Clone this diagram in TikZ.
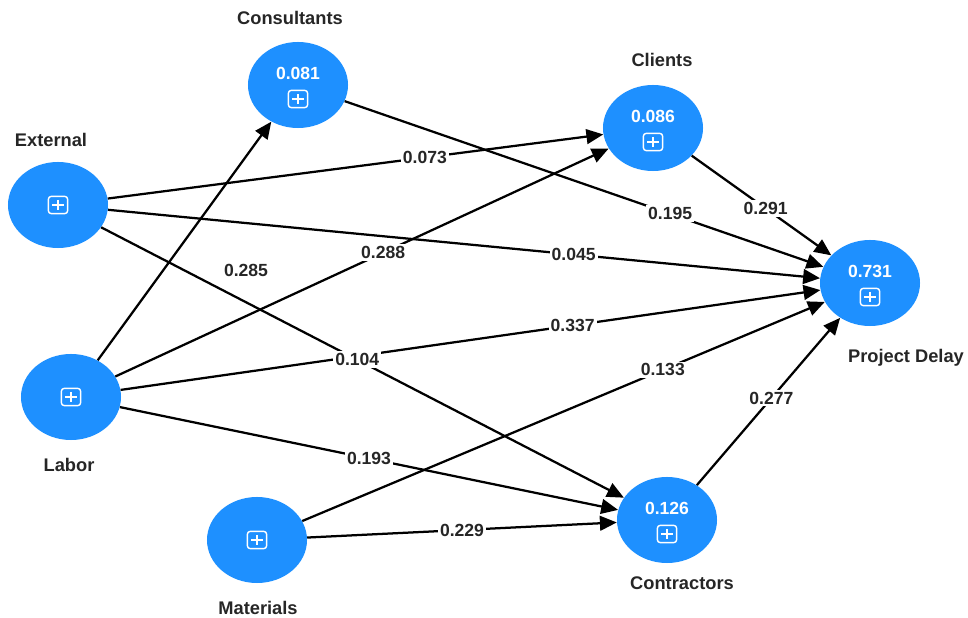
\documentclass[tikz,border=0pt]{standalone}
\usepackage{fontspec}
\setsansfont{Liberation Sans}
\usepackage{tikz}
\usetikzlibrary{shapes.geometric, arrows.meta, positioning, calc}
\definecolor{ConstructBlue}{HTML}{1E90FF}
\tikzset{
  construct/.style={ellipse, draw=none, fill=ConstructBlue, minimum width=2.5cm, minimum height=2.15cm, inner sep=0pt},
  valtext/.style={text=white, font=\sffamily\bfseries\fontsize{12.5}{14}\selectfont, inner sep=0pt},
  plusbox/.style={rectangle, draw=white, line width=1pt, rounded corners=2pt, minimum width=0.48cm, minimum height=0.43cm, inner sep=0pt,
    path picture={\draw[white, line width=1pt] ([yshift=-2.5pt]path picture bounding box.north) -- ([yshift=2.5pt]path picture bounding box.south)
      ([xshift=2.5pt]path picture bounding box.west) -- ([xshift=-2.5pt]path picture bounding box.east);}},
  namelbl/.style={font=\sffamily\bfseries\fontsize{13}{15}\selectfont, text=black!85, inner sep=1pt},
  coef/.style={fill=white, font=\sffamily\bfseries\fontsize{12.5}{14}\selectfont, text=black!85, inner sep=1.5pt},
  path/.style={-{Triangle[length=12pt, width=10.5pt]}, line width=1.6pt, black}
}
\begin{document}
\begin{tikzpicture}[x=0.025cm, y=0.025cm]
  \useasboundingbox (0,0) rectangle (968,618);
  % constructs
  \node[construct] (cons) at (298,533) {};
  \node[construct] (cli) at (653,490) {};
  \node[construct] (ext) at (58,413) {};
  \node[construct] (pd) at (870,335) {};
  \node[construct] (lab) at (71,221) {};
  \node[construct] (mat) at (257,78) {};
  \node[construct] (contr) at (667,98) {};
  % r-squared values
  \node[valtext] (consval) at ($(cons)+(0,12)$) {0.081};
  \node[valtext] (clival) at ($(cli)+(0,12)$) {0.086};
  \node[valtext] (pdval) at ($(pd)+(0,12)$) {0.731};
  \node[valtext] (contrval) at ($(contr)+(0,12)$) {0.126};
  % expand icons
  \node[plusbox] (consbox) at ($(cons)+(0,-14)$) {};
  \node[plusbox] (clibox) at ($(cli)+(0,-14)$) {};
  \node[plusbox] (pdbox) at ($(pd)+(0,-14)$) {};
  \node[plusbox] (contrbox) at ($(contr)+(0,-14)$) {};
  \node[plusbox] (extbox) at (ext) {};
  \node[plusbox] (labbox) at (lab) {};
  \node[plusbox] (matbox) at (mat) {};
  % names
  \node[namelbl] (conslbl) at (290,600) {Consultants};
  \node[namelbl] (clilbl) at (662,558) {Clients};
  \node[namelbl] (extlbl) at (51,478) {External};
  \node[namelbl] (pdlbl) at (906,260) {Project Delay};
  \node[namelbl] (lablbl) at (69,153) {Labor};
  \node[namelbl] (matlbl) at (258,10) {Materials};
  \node[namelbl] (contrlbl) at (682,35) {Contractors};
  % paths
  \draw[path] (ext) -- coordinate[pos=0.64] (c1) (cli);
  \draw[path] (ext) -- coordinate[pos=0.654] (c2) (pd);
  \draw[path] (ext) -- coordinate[pos=0.49] (c3) (contr);
  \draw[path] (lab) -- coordinate[pos=0.375] (c4) (cons);
  \draw[path] (lab) -- coordinate[pos=0.543] (c5) (cli);
  \draw[path] (lab) -- coordinate[pos=0.646] (c6) (pd);
  \draw[path] (lab) -- coordinate[pos=0.5] (c7) (contr);
  \draw[path] (cons) -- coordinate[pos=0.68] (c8) (pd);
  \draw[path] (cli) -- coordinate[pos=0.53] (c9) (pd);
  \draw[path] (mat) -- coordinate[pos=0.69] (c10) (pd);
  \draw[path] (mat) -- coordinate[pos=0.5] (c11) (contr);
  \draw[path] (contr) -- coordinate[pos=0.52] (c12) (pd);
  % path coefficients
  \node[coef] (k1) at (c1) {0.073};
  \node[coef] (k2) at (c2) {0.045};
  \node[coef] (k3) at (c3) {0.104};
  \node[coef, xshift=2.08cm] (k4) at (c4) {0.285};
  \node[coef] (k5) at (c5) {0.288};
  \node[coef] (k6) at (c6) {0.337};
  \node[coef] (k7) at (c7) {0.193};
  \node[coef] (k8) at (c8) {0.195};
  \node[coef] (k9) at (c9) {0.291};
  \node[coef] (k10) at (c10) {0.133};
  \node[coef] (k11) at (c11) {0.229};
  \node[coef] (k12) at (c12) {0.277};
\end{tikzpicture}
\end{document}
